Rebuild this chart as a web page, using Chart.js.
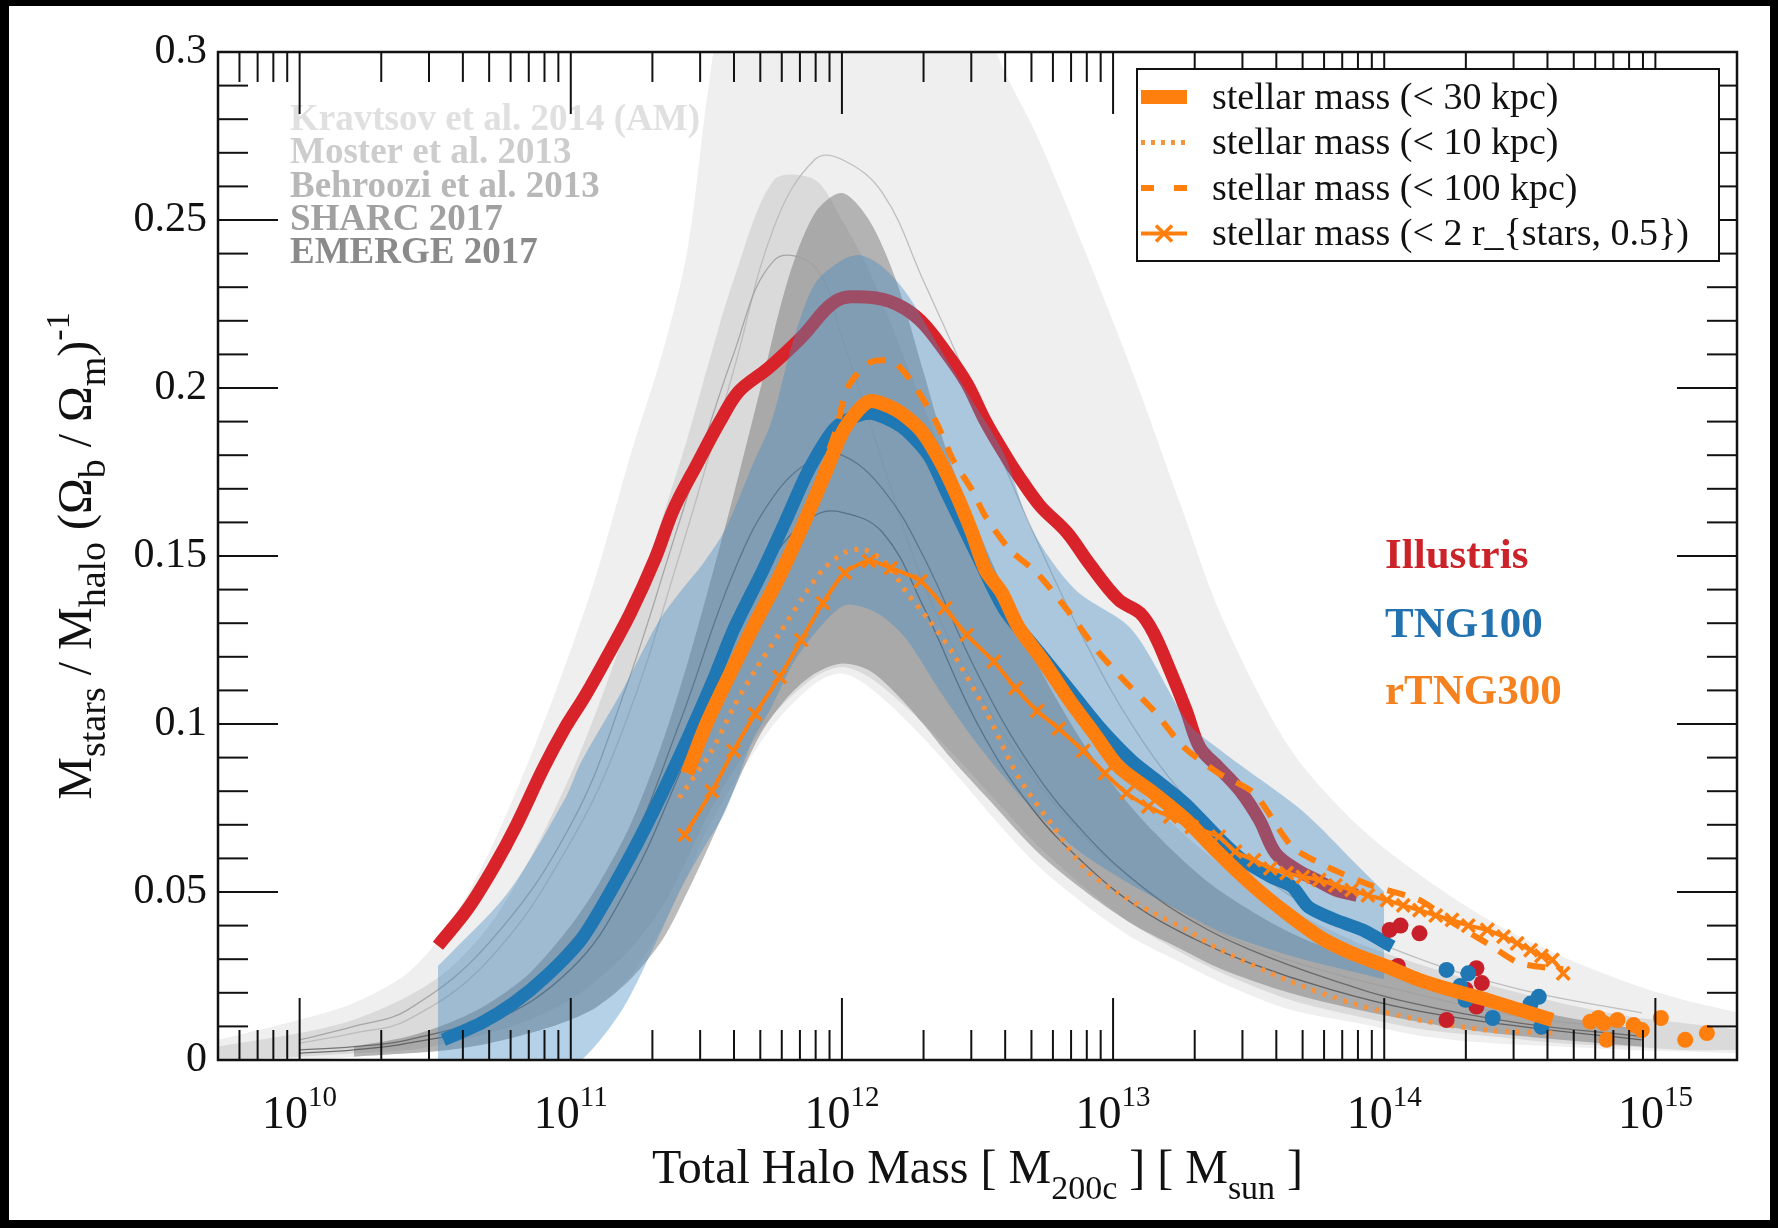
<!DOCTYPE html>
<html>
<head>
<meta charset="utf-8">
<script src="https://cdn.jsdelivr.net/npm/chart.js@4.4.0/dist/chart.umd.min.js"></script>
<style>
  html, body { margin: 0; padding: 0; background: #000; }
  #wrap { width: 1778px; height: 1228px; }
</style>
</head>
<body>
<div id="wrap"><canvas id="smhm" width="1778" height="1228"></canvas></div>
<script>
// halo masses are stored as log10(M200c / Msun), ratios as plotted
const xMin = 5e9, xMax = 2e15;
const decades = [10, 11, 12, 13, 14, 15];

const modelNames = ['Kravtsov et al. 2014 (AM)', 'Moster et al. 2013', 'Behroozi et al. 2013', 'SHARC 2017', 'EMERGE 2017'];
const modelColors = ['#e0e0e0', '#cdcdcd', '#b8b8b8', '#a0a0a0', '#8a8a8a'];
const simNames = ['Illustris', 'TNG100', 'rTNG300'];
const simColors = ['#cc2229', '#2272b0', '#f5821f'];
const legendLabels = ['stellar mass (< 30 kpc)', 'stellar mass (< 10 kpc)', 'stellar mass (< 100 kpc)', 'stellar mass (< 2 r_{stars, 0.5})'];

// abundance matching / empirical model bands
const greyLogM = [9.70, 10.0, 10.2, 10.4, 10.55, 10.7, 10.85, 11.0, 11.1, 11.22, 11.34, 11.43, 11.5, 11.6, 11.75, 11.9, 12.0, 12.1, 12.25, 12.4, 12.57, 12.72, 12.9, 13.08, 13.25, 13.4, 13.65, 13.9, 14.15, 14.4, 14.65, 14.9, 15.1, 15.31];
const kravtsovHi = [0.006, 0.012, 0.017, 0.026, 0.040, 0.062, 0.090, 0.122, 0.146, 0.180, 0.211, 0.241, 0.285, 0.340, 0.400, 0.430, 0.440, 0.430, 0.400, 0.350, 0.300, 0.275, 0.240, 0.203, 0.165, 0.132, 0.093, 0.070, 0.054, 0.041, 0.031, 0.023, 0.018, 0.014];
const kravtsovLo = [0.000, 0.000, 0.001, 0.002, 0.003, 0.005, 0.008, 0.012, 0.016, 0.025, 0.040, 0.055, 0.068, 0.082, 0.100, 0.112, 0.115, 0.111, 0.100, 0.087, 0.071, 0.058, 0.046, 0.036, 0.029, 0.023, 0.015, 0.011, 0.007, 0.005, 0.004, 0.003, 0.0025, 0.002];
const mosterHi = [0.004, 0.008, 0.012, 0.019, 0.027, 0.040, 0.060, 0.085, 0.105, 0.132, 0.162, 0.185, 0.205, 0.232, 0.262, 0.262, 0.250, 0.235, 0.205, 0.175, 0.145, 0.122, 0.100, 0.082, 0.068, 0.058, 0.045, 0.035, 0.028, 0.022, 0.017, 0.013, 0.011, 0.009];
const mosterLo = [0.000, 0.001, 0.002, 0.003, 0.005, 0.008, 0.012, 0.018, 0.024, 0.033, 0.046, 0.060, 0.072, 0.086, 0.103, 0.114, 0.117, 0.114, 0.104, 0.092, 0.077, 0.064, 0.051, 0.040, 0.032, 0.026, 0.018, 0.013, 0.009, 0.007, 0.005, 0.004, 0.003, 0.003];

const emergeLogM = [10.2, 10.4, 10.55, 10.7, 10.85, 11.0, 11.1, 11.22, 11.34, 11.43, 11.5, 11.6, 11.7, 11.8, 11.9, 12.0, 12.1, 12.2, 12.3, 12.4, 12.57, 12.72, 12.9, 13.08, 13.25, 13.4, 13.65, 13.9, 14.15, 14.4, 14.65, 14.95];
const emergeHi = [0.004, 0.007, 0.011, 0.017, 0.026, 0.040, 0.052, 0.070, 0.095, 0.118, 0.138, 0.168, 0.200, 0.232, 0.252, 0.258, 0.250, 0.232, 0.205, 0.178, 0.145, 0.118, 0.093, 0.074, 0.060, 0.050, 0.038, 0.030, 0.023, 0.018, 0.013, 0.009];
const emergeLo = [0.001, 0.002, 0.003, 0.005, 0.008, 0.012, 0.016, 0.024, 0.036, 0.050, 0.062, 0.080, 0.097, 0.108, 0.115, 0.118, 0.116, 0.109, 0.100, 0.090, 0.075, 0.062, 0.050, 0.040, 0.033, 0.027, 0.020, 0.015, 0.011, 0.008, 0.006, 0.004];

// thin median curves of the models
const modelLineLogM = [10.0, 10.2, 10.4, 10.7, 11.0, 11.2, 11.4, 11.6, 11.75, 11.9, 12.0, 12.15, 12.3, 12.5, 12.7, 12.9, 13.1, 13.3, 13.5, 13.8, 14.1, 14.5, 14.95];
const behrooziLine = [0.005, 0.008, 0.012, 0.030, 0.065, 0.100, 0.150, 0.205, 0.248, 0.268, 0.268, 0.258, 0.232, 0.196, 0.158, 0.124, 0.096, 0.075, 0.058, 0.042, 0.031, 0.021, 0.014];
const mosterLine = [0.006, 0.010, 0.015, 0.035, 0.070, 0.110, 0.160, 0.210, 0.238, 0.236, 0.215, 0.178, 0.142, 0.110, 0.085, 0.066, 0.052, 0.042, 0.034, 0.026, 0.020, 0.013, 0.009];
const sharcLine = [0.003, 0.004, 0.006, 0.014, 0.035, 0.060, 0.100, 0.145, 0.168, 0.179, 0.180, 0.170, 0.150, 0.115, 0.087, 0.067, 0.052, 0.041, 0.033, 0.024, 0.017, 0.011, 0.007];
const emergeLine = [0.002, 0.003, 0.005, 0.011, 0.027, 0.050, 0.085, 0.125, 0.150, 0.162, 0.163, 0.157, 0.135, 0.100, 0.075, 0.058, 0.045, 0.036, 0.029, 0.021, 0.015, 0.010, 0.006];

// Illustris
const illustrisLogM = [10.51, 10.62, 10.72, 10.80, 10.90, 10.98, 11.05, 11.12, 11.22, 11.31, 11.38, 11.47, 11.55, 11.62, 11.73, 11.85, 11.98, 12.10, 12.20, 12.29, 12.38, 12.46, 12.53, 12.61, 12.65, 12.73, 12.83, 12.91, 13.02, 13.10, 13.15, 13.21, 13.27, 13.32, 13.39, 13.47, 13.54, 13.60, 13.68, 13.75, 13.82, 13.90];
const illustrisRatio = [0.034, 0.045, 0.058, 0.070, 0.087, 0.099, 0.108, 0.118, 0.133, 0.149, 0.164, 0.178, 0.190, 0.199, 0.206, 0.215, 0.226, 0.227, 0.225, 0.220, 0.211, 0.2015, 0.190, 0.179, 0.174, 0.165, 0.157, 0.148, 0.137, 0.133, 0.127, 0.116, 0.104, 0.093, 0.087, 0.080, 0.0714, 0.0615, 0.0565, 0.0536, 0.0506, 0.049];

// TNG100 scatter band and median
const tngBandLogM = [10.51, 10.56, 10.77, 10.98, 11.04, 11.19, 11.32, 11.40, 11.49, 11.57, 11.67, 11.74, 11.82, 11.90, 12.00, 12.07, 12.15, 12.24, 12.36, 12.49, 12.60, 12.70, 12.86, 13.07, 13.28, 13.40, 13.50, 13.70, 13.90, 14.00];
const tngBandLo = [0, 0, 0, 0, 0, 0.015, 0.036, 0.050, 0.063, 0.074, 0.095, 0.105, 0.118, 0.127, 0.135, 0.135, 0.132, 0.125, 0.110, 0.095, 0.084, 0.075, 0.063, 0.052, 0.043, 0.038, 0.035, 0.030, 0.026, 0.024];
const tngBandHi = [0.028, 0.032, 0.050, 0.078, 0.089, 0.110, 0.130, 0.139, 0.148, 0.158, 0.177, 0.190, 0.214, 0.231, 0.238, 0.2395, 0.236, 0.228, 0.212, 0.195, 0.180, 0.158, 0.140, 0.128, 0.100, 0.092, 0.086, 0.074, 0.058, 0.050];
const tngLogM = [10.53, 10.67, 10.79, 10.91, 11.04, 11.16, 11.28, 11.41, 11.53, 11.60, 11.71, 11.79, 11.88, 11.98, 12.10, 12.22, 12.32, 12.38, 12.50, 12.60, 12.73, 12.84, 12.95, 13.07, 13.18, 13.27, 13.39, 13.47, 13.58, 13.66, 13.72, 13.82, 13.92, 14.03];
const tngRatio = [0.006, 0.011, 0.017, 0.025, 0.036, 0.052, 0.070, 0.092, 0.114, 0.128, 0.146, 0.160, 0.176, 0.1885, 0.1925, 0.1885, 0.180, 0.170, 0.150, 0.134, 0.121, 0.110, 0.099, 0.089, 0.082, 0.076, 0.066, 0.060, 0.0546, 0.0516, 0.0456, 0.0417, 0.0387, 0.0337];

// rTNG300 apertures
const r30LogM = [11.43, 11.50, 11.60, 11.68, 11.77, 11.85, 11.93, 12.01, 12.10, 12.20, 12.29, 12.36, 12.42, 12.48, 12.53, 12.59, 12.65, 12.74, 12.84, 12.93, 13.02, 13.15, 13.27, 13.39, 13.52, 13.64, 13.76, 13.88, 14.01, 14.13, 14.25, 14.38, 14.50, 14.62];
const r30Ratio = [0.0853, 0.100, 0.117, 0.130, 0.144, 0.158, 0.173, 0.188, 0.196, 0.1935, 0.1875, 0.1786, 0.1687, 0.157, 0.1458, 0.139, 0.129, 0.119, 0.107, 0.0972, 0.0873, 0.0794, 0.0714, 0.0615, 0.0516, 0.0437, 0.0367, 0.0318, 0.0278, 0.0238, 0.0208, 0.0179, 0.0149, 0.0119];
const r10LogM = [11.40, 11.52, 11.60, 11.68, 11.77, 11.85, 11.93, 12.01, 12.08, 12.16, 12.24, 12.32, 12.41, 12.53, 12.65, 12.78, 12.90, 13.02, 13.15, 13.27, 13.39, 13.64, 13.88, 14.13, 14.38, 14.62];
const r10Ratio = [0.078, 0.092, 0.105, 0.116, 0.127, 0.137, 0.146, 0.151, 0.152, 0.148, 0.139, 0.131, 0.121, 0.104, 0.0843, 0.0694, 0.0565, 0.0496, 0.0437, 0.0387, 0.033, 0.0238, 0.0169, 0.0119, 0.0089, 0.008];
const r100LogM = [11.43, 11.60, 11.77, 11.90, 11.98, 12.02, 12.10, 12.19, 12.27, 12.35, 12.41, 12.48, 12.53, 12.62, 12.72, 12.84, 12.94, 13.04, 13.15, 13.26, 13.39, 13.52, 13.66, 13.79, 13.95, 14.13, 14.25, 14.38, 14.50, 14.66];
const r100Ratio = [0.086, 0.117, 0.144, 0.170, 0.188, 0.200, 0.2075, 0.2078, 0.2004, 0.1895, 0.1786, 0.1696, 0.1617, 0.1518, 0.1449, 0.133, 0.122, 0.113, 0.104, 0.0932, 0.0853, 0.0794, 0.0635, 0.0575, 0.052, 0.0476, 0.041, 0.0347, 0.0288, 0.027];
const rHalfLogM = [11.42, 11.52, 11.60, 11.68, 11.77, 11.85, 11.93, 12.01, 12.10, 12.18, 12.29, 12.38, 12.46, 12.56, 12.64, 12.72, 12.80, 12.89, 12.97, 13.05, 13.13, 13.21, 13.29, 13.39, 13.45, 13.52, 13.58, 13.64, 13.70, 13.76, 13.82, 13.88, 13.94, 14.01, 14.07, 14.13, 14.19, 14.25, 14.31, 14.38, 14.44, 14.49, 14.54, 14.58, 14.62, 14.66];
const rHalfRatio = [0.067, 0.080, 0.092, 0.103, 0.114, 0.125, 0.136, 0.145, 0.1485, 0.1464, 0.1425, 0.1345, 0.1265, 0.1186, 0.1107, 0.1039, 0.0986, 0.092, 0.0853, 0.0794, 0.0754, 0.0724, 0.0694, 0.0665, 0.062, 0.0595, 0.057, 0.0556, 0.0545, 0.0536, 0.052, 0.0506, 0.049, 0.0476, 0.046, 0.0446, 0.043, 0.0417, 0.040, 0.0387, 0.0367, 0.0347, 0.0327, 0.031, 0.0298, 0.0258];

// individual massive haloes
const illustrisDotLogM = [14.02, 14.06, 14.13, 14.05, 14.34, 14.36, 14.34, 14.23, 14.30];
const illustrisDotRatio = [0.0387, 0.040, 0.0377, 0.028, 0.0273, 0.0229, 0.0159, 0.0119, 0.021];
const tngDotLogM = [14.23, 14.31, 14.28, 14.40, 14.57, 14.54, 14.58, 14.30];
const tngDotRatio = [0.0268, 0.0258, 0.022, 0.0125, 0.0188, 0.0168, 0.0099, 0.0179];
const rtngDotLogM = [14.76, 14.79, 14.81, 14.82, 14.86, 14.92, 14.95, 15.02, 15.11, 15.19];
const rtngDotRatio = [0.0114, 0.0125, 0.011, 0.006, 0.0119, 0.0104, 0.0089, 0.0125, 0.006, 0.008];

const RED = '#d9232a', BLUE = '#1f77b4', ORANGE = '#ff7f0e';

const pts = (logm, vals) => logm.map((m, i) => ({ x: Math.pow(10, m), y: vals[i] }));

// datasets listed from bottom layer to top layer
const layers = [];
function band(logm, lo, hi, color) {
  layers.push({ data: pts(logm, lo), borderWidth: 0, borderColor: 'transparent', pointRadius: 0, fill: false, tension: 0.3 });
  layers.push({ data: pts(logm, hi), borderWidth: 0, borderColor: 'transparent', pointRadius: 0, fill: '-1', backgroundColor: color, tension: 0.3 });
}
function curve(logm, vals, color, width, extra) {
  layers.push(Object.assign({
    data: pts(logm, vals), borderColor: color, borderWidth: width, pointRadius: 0,
    fill: false, tension: 0.25, borderJoinStyle: 'round', borderCapStyle: 'butt'
  }, extra || {}));
}
function dots(logm, vals, color) {
  layers.push({ data: pts(logm, vals), showLine: false, pointRadius: 8, pointBackgroundColor: color,
    pointBorderWidth: 0, borderColor: color, fill: false });
}

band(greyLogM, kravtsovLo, kravtsovHi, '#efefef');
band(greyLogM, mosterLo, mosterHi, 'rgba(170,170,170,0.30)');
band(emergeLogM, emergeLo, emergeHi, 'rgba(120,120,120,0.50)');
curve(modelLineLogM, behrooziLine, 'rgba(185,185,185,0.9)', 1.3, { tension: 0.4 });
curve(modelLineLogM, mosterLine, 'rgba(160,160,160,0.9)', 1.3, { tension: 0.4 });
curve(modelLineLogM, sharcLine, 'rgba(90,90,90,0.8)', 1.3, { tension: 0.4 });
curve(modelLineLogM, emergeLine, 'rgba(80,80,80,0.8)', 1.3, { tension: 0.4 });
curve(illustrisLogM, illustrisRatio, RED, 13, { tension: 0.35 });
band(tngBandLogM, tngBandLo, tngBandHi, 'rgba(70,140,195,0.40)');
curve(tngLogM, tngRatio, BLUE, 13);
curve(r10LogM, r10Ratio, '#f7913a', 5, { borderDash: [4, 7] });
dots(illustrisDotLogM, illustrisDotRatio, '#c8202a');
dots(tngDotLogM, tngDotRatio, BLUE);
curve(rHalfLogM, rHalfRatio, ORANGE, 4, { pointStyle: 'crossRot', pointRadius: 9, pointBorderWidth: 3.5, pointBorderColor: ORANGE, pointBackgroundColor: ORANGE });
curve(r100LogM, r100Ratio, ORANGE, 6, { borderDash: [18, 14] });
curve(r30LogM, r30Ratio, ORANGE, 14);
dots(rtngDotLogM, rtngDotRatio, ORANGE);
layers.forEach((d, i) => { d.order = layers.length - i; });

function richText(ctx, parts, x, y) {
  let total = 0;
  parts.forEach(p => { ctx.font = p[1] + 'px "Liberation Serif"'; total += ctx.measureText(p[0]).width; });
  let cx = x - total / 2;
  parts.forEach(p => {
    ctx.font = p[1] + 'px "Liberation Serif"';
    ctx.fillText(p[0], cx, y + p[2]);
    cx += ctx.measureText(p[0]).width;
  });
}

function seg(ctx, x1, y1, x2, y2) {
  ctx.beginPath(); ctx.moveTo(x1, y1); ctx.lineTo(x2, y2); ctx.stroke();
}

const decorations = {
  id: 'decorations',
  beforeDraw(chart) {
    const ctx = chart.ctx;
    ctx.save();
    ctx.fillStyle = '#000';
    ctx.fillRect(0, 0, chart.width, chart.height);
    ctx.fillStyle = '#fff';
    ctx.fillRect(9, 6, chart.width - 17, chart.height - 14);
    ctx.restore();
  },
  beforeDatasetsDraw(chart) {
    // model names sit underneath the shaded bands
    const ctx = chart.ctx;
    ctx.save();
    ctx.font = 'bold 37px "Liberation Serif"';
    ctx.textBaseline = 'alphabetic';
    modelNames.forEach((t, i) => {
      ctx.fillStyle = modelColors[i];
      ctx.fillText(t, 290, 130 + i * 33.3);
    });
    ctx.restore();
  },
  afterDatasetsDraw(chart) {
    const ctx = chart.ctx;
    const xs = chart.scales.x, ys = chart.scales.y;
    const { left, right, top, bottom } = chart.chartArea;
    ctx.save();

    // inward ticks on all four sides
    ctx.strokeStyle = '#111';
    ctx.lineWidth = 2;
    for (let e = 9; e <= 15; e++) {
      for (let m = 1; m <= 9; m++) {
        const v = m * Math.pow(10, e);
        if (v < xMin || v > xMax) continue;
        const px = xs.getPixelForValue(v);
        const len = m === 1 ? 62 : 30;
        seg(ctx, px, bottom, px, bottom - len);
        seg(ctx, px, top, px, top + len);
      }
    }
    for (let k = 0; k <= 30; k++) {
      const py = ys.getPixelForValue(k / 100);
      const len = k % 5 === 0 ? 60 : 30;
      seg(ctx, left, py, left + len, py);
      seg(ctx, right, py, right - len, py);
    }
    ctx.lineWidth = 2.5;
    ctx.strokeRect(left, top, right - left, bottom - top);

    // decade labels
    ctx.fillStyle = '#111';
    ctx.textBaseline = 'alphabetic';
    decades.forEach(e => {
      const px = xs.getPixelForValue(Math.pow(10, e));
      ctx.font = '46px "Liberation Serif"';
      const wb = ctx.measureText('10').width;
      ctx.font = '29px "Liberation Serif"';
      const ws = ctx.measureText(String(e)).width;
      const x0 = px - (wb + ws) / 2;
      ctx.font = '46px "Liberation Serif"';
      ctx.fillText('10', x0, 1128);
      ctx.font = '29px "Liberation Serif"';
      ctx.fillText(String(e), x0 + wb, 1106);
    });

    // axis titles
    richText(ctx, [['Total Halo Mass [ M', 48, 0], ['200c', 34, 16], [' ] [ M', 48, 0], ['sun', 34, 16], [' ]', 48, 0]], (left + right) / 2, 1183);
    ctx.save();
    ctx.translate(91, (top + bottom) / 2);
    ctx.rotate(-Math.PI / 2);
    richText(ctx, [['M', 48, 0], ['stars', 38, 14], [' / M', 48, 0], ['halo', 38, 14], [' (\u03A9', 48, 0], ['b', 38, 14],
      [' / \u03A9', 48, 0], ['m', 38, 14], [')', 48, 0], ['-1', 34, -22]], 0, 0);
    ctx.restore();

    // simulation names
    ctx.font = 'bold 43px "Liberation Serif"';
    simNames.forEach((t, i) => {
      ctx.fillStyle = simColors[i];
      ctx.fillText(t, 1385, [568, 637, 704][i]);
    });

    // legend box
    const lx = 1137, ly = 69, lw = 582, lh = 192;
    ctx.fillStyle = '#fff';
    ctx.fillRect(lx, ly, lw, lh);
    ctx.strokeStyle = '#111';
    ctx.lineWidth = 2;
    ctx.strokeRect(lx, ly, lw, lh);
    ctx.font = '38px "Liberation Serif"';
    ctx.textBaseline = 'middle';
    legendLabels.forEach((t, i) => {
      const cy = ly + 28 + i * 45.5;
      const sx1 = lx + 4, sx2 = lx + 50;
      ctx.strokeStyle = i === 1 ? '#f0953e' : ORANGE;
      ctx.lineCap = 'butt';
      if (i === 0) { ctx.lineWidth = 14; ctx.setLineDash([]); }
      if (i === 1) { ctx.lineWidth = 5; ctx.setLineDash([4, 6]); }
      if (i === 2) { ctx.lineWidth = 6; ctx.setLineDash([13, 20]); }
      if (i === 3) { ctx.lineWidth = 4; ctx.setLineDash([]); }
      seg(ctx, sx1, cy, sx2, cy);
      ctx.setLineDash([]);
      if (i === 3) {
        const mx = (sx1 + sx2) / 2, r = 8;
        ctx.lineWidth = 3.5;
        seg(ctx, mx - r, cy - r, mx + r, cy + r);
        seg(ctx, mx - r, cy + r, mx + r, cy - r);
      }
      ctx.fillStyle = '#111';
      ctx.fillText(t, lx + 75, cy + 2);
    });
    ctx.restore();
  }
};

Chart.defaults.font.family = '"Liberation Serif"';

new Chart(document.getElementById('smhm'), {
  type: 'line',
  data: { datasets: layers },
  options: {
    responsive: false,
    devicePixelRatio: 1,
    animation: false,
    events: [],
    layout: { padding: { top: 52, right: 41, left: 0, bottom: 0 } },
    scales: {
      x: {
        type: 'logarithmic',
        min: xMin,
        max: xMax,
        grid: { display: false, drawTicks: false },
        border: { display: false },
        ticks: { display: false },
        afterFit: s => { s.height = 168; }
      },
      y: {
        min: 0,
        max: 0.3,
        grid: { display: false, drawTicks: false },
        border: { display: false },
        ticks: {
          stepSize: 0.05,
          padding: 11,
          color: '#111',
          font: { family: '"Liberation Serif"', size: 42 },
          callback: v => String(Math.round(v * 100) / 100)
        },
        afterFit: s => { s.width = 218; }
      }
    },
    plugins: {
      legend: { display: false },
      tooltip: { enabled: false }
    }
  },
  plugins: [decorations]
});
</script>
</body>
</html>
